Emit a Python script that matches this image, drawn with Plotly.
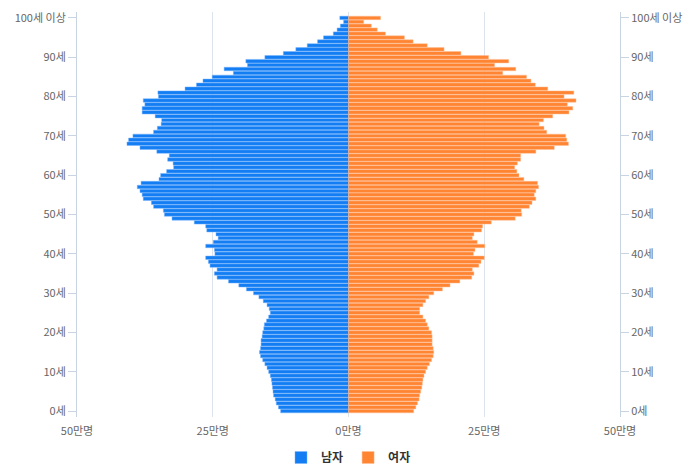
import plotly.graph_objects as go

# age groups 0..100 (100 = 100세 이상)
ages = list(range(0, 101))

# population in 만명 (index = age)
male = [12.5, 12.9, 13.3, 13.5, 13.8, 13.9, 14.0, 14.1, 14.2, 14.4,
        14.7, 15.0, 15.4, 15.8, 16.2, 16.4, 16.2, 16.1, 16.1, 15.9,
        15.8, 15.6, 15.5, 15.1, 14.7, 14.4, 14.6, 15.0, 15.7, 16.5,
        17.5, 18.8, 20.2, 22.1, 24.2, 24.7, 24.2, 25.5, 25.8, 26.3,
        24.6, 24.7, 26.3, 24.9, 24.0, 24.4, 26.1, 26.3, 28.4, 32.5,
        33.9, 34.1, 35.9, 36.3, 37.8, 38.0, 38.4, 38.9, 38.2, 34.9,
        34.6, 33.5, 32.2, 32.3, 33.3, 33.0, 35.3, 38.4, 40.8, 40.5,
        39.7, 35.9, 35.2, 34.5, 34.4, 35.6, 38.0, 38.0, 37.5, 37.8,
        35.0, 35.1, 30.1, 28.0, 26.8, 25.1, 21.2, 22.9, 18.6, 18.9,
        15.4, 12.0, 9.7, 7.6, 5.7, 4.6, 2.8, 2.1, 1.5, 0.9,
        1.6]

female = [12.0, 12.4, 12.7, 13.0, 13.1, 13.3, 13.5, 13.6, 13.7, 13.9,
          14.2, 14.5, 14.9, 15.3, 15.6, 15.7, 15.6, 15.4, 15.4, 15.4,
          15.3, 14.8, 14.5, 14.2, 13.7, 13.1, 13.1, 13.7, 14.2, 14.8,
          15.7, 17.3, 18.7, 20.5, 22.7, 23.1, 22.8, 24.0, 24.4, 25.0,
          23.0, 23.3, 25.1, 23.7, 22.8, 23.1, 24.5, 24.7, 26.3, 30.7,
          31.9, 31.8, 33.3, 33.8, 34.5, 34.2, 34.5, 35.0, 34.8, 32.3,
          31.4, 31.0, 30.6, 31.1, 31.7, 31.7, 34.5, 37.9, 40.5, 40.2,
          40.0, 36.5, 36.0, 35.1, 35.9, 37.6, 40.6, 41.3, 40.3, 41.9,
          39.7, 41.5, 36.7, 34.4, 33.6, 32.8, 28.4, 30.8, 26.9, 29.5,
          25.8, 20.7, 17.6, 14.5, 11.9, 10.3, 6.8, 5.3, 4.2, 2.8,
          5.9]

age_ticks = list(range(0, 101, 10))
age_labels = [f"{a}세" for a in age_ticks[:-1]] + ["100세 이상"]
x_ticks = [-50, -25, 0, 25, 50]
x_labels = ["50만명", "25만명", "0만명", "25만명", "50만명"]

BLUE = '#137ef4'
ORANGE = '#ff8532'
AXIS_COLOR = '#c9d4e2'

fig = go.Figure()

# male bars go to the left
fig.add_trace(go.Bar(y=ages, x=[-v for v in male], orientation='h',
                     name='남자', customdata=male,
                     hovertemplate='%{y}세: %{customdata}만명<extra>남자</extra>',
                     marker=dict(color=BLUE, line=dict(color='rgba(120,180,250,0.8)', width=0.6))))

fig.add_trace(go.Bar(y=ages, x=female, orientation='h',
                     name='여자',
                     hovertemplate='%{y}세: %{x}만명<extra>여자</extra>',
                     marker=dict(color=ORANGE, line=dict(color='rgba(255,190,150,0.8)', width=0.6))))

# invisible trace so the right hand age axis gets drawn
fig.add_trace(go.Scatter(x=[0], y=[0], yaxis='y2', mode='markers',
                         marker=dict(opacity=0), showlegend=False, hoverinfo='skip'))

axis_font = dict(family='Noto Sans CJK KR', size=11, color='#666666')
y_common = dict(range=[-1.5, 101.5], tickvals=age_ticks, ticktext=age_labels,
                showgrid=False, zeroline=False, showline=True, linecolor=AXIS_COLOR,
                linewidth=1, ticks='outside', ticklen=8, tickcolor=AXIS_COLOR,
                tickfont=axis_font, fixedrange=True)

fig.update_layout(
    barmode='overlay',
    bargap=0.12,
    width=700, height=467,
    margin=dict(l=77, r=80, t=12, b=50, autoexpand=False),
    plot_bgcolor='white',
    paper_bgcolor='white',
    font=dict(family='Noto Sans CJK KR'),
    xaxis=dict(range=[-50, 50], tickvals=x_ticks, ticktext=x_labels,
               showgrid=True, gridcolor='#dde3ea', gridwidth=1,
               zeroline=False, showline=False, ticks='', tickfont=axis_font,
               ticklabelstandoff=6, fixedrange=True),
    yaxis=dict(side='left', **y_common),
    yaxis2=dict(side='right', overlaying='y', **y_common),
    legend=dict(orientation='h', x=0.5, xanchor='center', y=-0.1, yanchor='middle',
                font=dict(family='Noto Sans CJK KR', size=12, color='#333333', weight='bold'),
                itemwidth=30, tracegroupgap=0, traceorder='normal'),
    showlegend=True,
)

# drop the default page margin so the chart sits at the window corner
fig.write_html("out.html", config={'displayModeBar': False},
               post_script="document.body.style.margin='0';")
